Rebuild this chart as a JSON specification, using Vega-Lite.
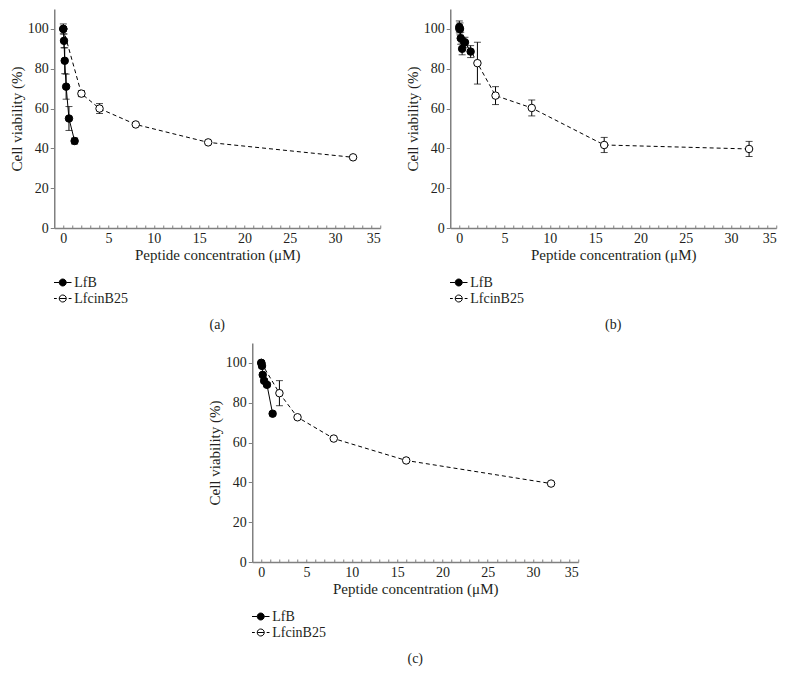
{
  "$schema": "https://vega.github.io/schema/vega-lite/v6.json",
  "background": "white",
  "padding": {"left": 9, "top": 9, "right": 5, "bottom": 5},
  "config": {
    "view": {"stroke": null},
    "axis": {"domainColor": "#808080", "domainWidth": 1.5, "tickColor": "#808080", "tickWidth": 1, "labelFont": "Liberation Serif", "labelFontSize": 14, "labelColor": "#231f20", "titleFont": "Liberation Serif", "titleFontSize": 15, "titleFontWeight": "normal", "titleColor": "#231f20", "grid": false},
    "legend": {"labelFont": "Liberation Serif", "labelFontSize": 14, "labelColor": "#231f20", "symbolStrokeColor": "black", "symbolStrokeWidth": 1, "symbolSize": 196, "labelOffset": 4, "rowPadding": 1},
    "title": {"font": "Liberation Serif", "fontSize": 14, "fontWeight": "normal", "color": "#231f20"}
  },
  "datasets": {
    "pts": [
      {"panel": "a", "series": "LfcinB25", "conc": 0, "viability": 100, "err": 0},
      {"panel": "a", "series": "LfcinB25", "conc": 2, "viability": 67.5, "err": 1.5},
      {"panel": "a", "series": "LfcinB25", "conc": 4, "viability": 60, "err": 2.5},
      {"panel": "a", "series": "LfcinB25", "conc": 8, "viability": 52, "err": 0},
      {"panel": "a", "series": "LfcinB25", "conc": 16, "viability": 43, "err": 0},
      {"panel": "a", "series": "LfcinB25", "conc": 32, "viability": 35.5, "err": 0},
      {"panel": "a", "series": "LfB", "conc": 0, "viability": 100, "err": 2.5},
      {"panel": "a", "series": "LfB", "conc": 0.078, "viability": 94, "err": 3.5},
      {"panel": "a", "series": "LfB", "conc": 0.156, "viability": 84, "err": 6.5},
      {"panel": "a", "series": "LfB", "conc": 0.3125, "viability": 71, "err": 6.3},
      {"panel": "a", "series": "LfB", "conc": 0.625, "viability": 55, "err": 6},
      {"panel": "a", "series": "LfB", "conc": 1.25, "viability": 43.7, "err": 1.5},
      {"panel": "b", "series": "LfcinB25", "conc": 0, "viability": 100, "err": 0},
      {"panel": "b", "series": "LfcinB25", "conc": 2, "viability": 82.8, "err": 10.5},
      {"panel": "b", "series": "LfcinB25", "conc": 4, "viability": 66.5, "err": 4.5},
      {"panel": "b", "series": "LfcinB25", "conc": 8, "viability": 60.3, "err": 4},
      {"panel": "b", "series": "LfcinB25", "conc": 16, "viability": 41.7, "err": 3.8},
      {"panel": "b", "series": "LfcinB25", "conc": 32, "viability": 39.7, "err": 3.8},
      {"panel": "b", "series": "LfB", "conc": 0, "viability": 101, "err": 3},
      {"panel": "b", "series": "LfB", "conc": 0.078, "viability": 100, "err": 3},
      {"panel": "b", "series": "LfB", "conc": 0.156, "viability": 95.3, "err": 3},
      {"panel": "b", "series": "LfB", "conc": 0.3125, "viability": 90, "err": 3},
      {"panel": "b", "series": "LfB", "conc": 0.625, "viability": 93.3, "err": 2.5},
      {"panel": "b", "series": "LfB", "conc": 1.25, "viability": 88.6, "err": 3},
      {"panel": "c", "series": "LfcinB25", "conc": 0, "viability": 100, "err": 0},
      {"panel": "c", "series": "LfcinB25", "conc": 2, "viability": 84.8, "err": 6.3},
      {"panel": "c", "series": "LfcinB25", "conc": 4, "viability": 72.7, "err": 0},
      {"panel": "c", "series": "LfcinB25", "conc": 8, "viability": 62, "err": 0},
      {"panel": "c", "series": "LfcinB25", "conc": 16, "viability": 51, "err": 0},
      {"panel": "c", "series": "LfcinB25", "conc": 32, "viability": 39.4, "err": 0},
      {"panel": "c", "series": "LfB", "conc": 0, "viability": 100, "err": 0.5},
      {"panel": "c", "series": "LfB", "conc": 0.078, "viability": 98.5, "err": 1},
      {"panel": "c", "series": "LfB", "conc": 0.156, "viability": 94, "err": 1},
      {"panel": "c", "series": "LfB", "conc": 0.3125, "viability": 91, "err": 1},
      {"panel": "c", "series": "LfB", "conc": 0.625, "viability": 89, "err": 1},
      {"panel": "c", "series": "LfB", "conc": 1.25, "viability": 74.5, "err": 1}
    ]
  },
  "resolve": {"scale": {"fill": "independent", "shape": "independent"}, "legend": {"fill": "independent", "shape": "independent"}},
  "center": true,
  "spacing": 11,
  "vconcat": [
    {
      "spacing": 24,
      "resolve": {"scale": {"fill": "independent", "shape": "independent"}, "legend": {"fill": "independent", "shape": "independent"}},
      "hconcat": [
        {
          "width": 326, "height": 219,
          "title": {"text": "(a)", "orient": "bottom", "offset": 12, "anchor": "middle"},
          "data": {"name": "pts"},
          "transform": [{"filter": "datum.panel === 'a'"}],
          "encoding": {
            "x": {"field": "conc", "type": "quantitative", "scale": {"domain": [-1, 35], "nice": false, "zero": false}, "axis": {"title": "Peptide concentration (μM)", "values": [0,1,2,3,4,5,6,7,8,9,10,11,12,13,14,15,16,17,18,19,20,21,22,23,24,25,26,27,28,29,30,31,32,33,34,35], "labelExpr": "datum.value % 5 === 0 ? datum.label : ''", "tickSize": -3, "labelPadding": 6, "titlePadding": 2}},
            "y": {"field": "viability", "type": "quantitative", "scale": {"domain": [0, 110], "nice": false}, "axis": {"title": "Cell viability (%)", "values": [0, 20, 40, 60, 80, 100], "tickSize": 4, "labelPadding": 2, "titlePadding": 3}}
          },
          "layer": [
            {"mark": {"type": "errorbar", "color": "black", "thickness": 1, "ticks": {"size": 7, "color": "black"}}, "encoding": {"yError": {"field": "err"}, "detail": {"field": "series"}}},
            {"transform": [{"filter": "datum.series === 'LfB'"}], "mark": {"type": "line", "color": "black", "strokeWidth": 1}, "encoding": {}},
            {"transform": [{"filter": "datum.series === 'LfcinB25'"}], "mark": {"type": "line", "color": "black", "strokeWidth": 1, "strokeDash": [4, 3]}, "encoding": {}},
            {"mark": {"type": "point", "filled": true, "stroke": "black", "strokeWidth": 1, "size": 56, "opacity": 1},
             "encoding": {
               "fill": {"field": "series", "type": "nominal", "scale": {"domain": ["LfB", "LfcinB25"], "range": ["black", "white"]}, "legend": {"title": null, "orient": "none", "legendX": 1, "legendY": 266}}}},
            {"transform": [{"filter": "datum.conc < -100"}],
             "mark": {"type": "point", "filled": true, "stroke": "black", "strokeWidth": 1, "opacity": 1},
             "encoding": {
               "fill": {"field": "series", "type": "nominal", "scale": {"domain": ["LfB", "LfcinB25"], "range": ["black", "white"]}, "legend": {"title": null, "orient": "none", "legendX": 1, "legendY": 266}},
               "shape": {"field": "series", "type": "nominal", "scale": {"domain": ["LfB", "LfcinB25"], "range": ["M-1.25,0H-0.5M0.5,0H1.25M-0.5,0A0.5,0.5,0,1,1,0.5,0A0.5,0.5,0,1,1,-0.5,0Z", "M-1.25,0H-0.85M0.85,0H1.25M-0.5,0H0.5M-0.5,0A0.5,0.5,0,1,1,0.5,0A0.5,0.5,0,1,1,-0.5,0Z"]}, "legend": {"title": null, "orient": "none", "legendX": 1, "legendY": 266}}
             }}
          ]
        },
        {
          "width": 326, "height": 219,
          "title": {"text": "(b)", "orient": "bottom", "offset": 12, "anchor": "middle"},
          "data": {"name": "pts"},
          "transform": [{"filter": "datum.panel === 'b'"}],
          "encoding": {
            "x": {"field": "conc", "type": "quantitative", "scale": {"domain": [-1, 35], "nice": false, "zero": false}, "axis": {"title": "Peptide concentration (μM)", "values": [0,1,2,3,4,5,6,7,8,9,10,11,12,13,14,15,16,17,18,19,20,21,22,23,24,25,26,27,28,29,30,31,32,33,34,35], "labelExpr": "datum.value % 5 === 0 ? datum.label : ''", "tickSize": -3, "labelPadding": 6, "titlePadding": 2}},
            "y": {"field": "viability", "type": "quantitative", "scale": {"domain": [0, 110], "nice": false}, "axis": {"title": "Cell viability (%)", "values": [0, 20, 40, 60, 80, 100], "tickSize": 4, "labelPadding": 2, "titlePadding": 3}}
          },
          "layer": [
            {"mark": {"type": "errorbar", "color": "black", "thickness": 1, "ticks": {"size": 7, "color": "black"}}, "encoding": {"yError": {"field": "err"}, "detail": {"field": "series"}}},
            {"transform": [{"filter": "datum.series === 'LfB'"}], "mark": {"type": "line", "color": "black", "strokeWidth": 1}, "encoding": {}},
            {"transform": [{"filter": "datum.series === 'LfcinB25'"}], "mark": {"type": "line", "color": "black", "strokeWidth": 1, "strokeDash": [4, 3]}, "encoding": {}},
            {"mark": {"type": "point", "filled": true, "stroke": "black", "strokeWidth": 1, "size": 56, "opacity": 1},
             "encoding": {
               "fill": {"field": "series", "type": "nominal", "scale": {"domain": ["LfB", "LfcinB25"], "range": ["black", "white"]}, "legend": {"title": null, "orient": "none", "legendX": 1, "legendY": 266}}}},
            {"transform": [{"filter": "datum.conc < -100"}],
             "mark": {"type": "point", "filled": true, "stroke": "black", "strokeWidth": 1, "opacity": 1},
             "encoding": {
               "fill": {"field": "series", "type": "nominal", "scale": {"domain": ["LfB", "LfcinB25"], "range": ["black", "white"]}, "legend": {"title": null, "orient": "none", "legendX": 1, "legendY": 266}},
               "shape": {"field": "series", "type": "nominal", "scale": {"domain": ["LfB", "LfcinB25"], "range": ["M-1.25,0H-0.5M0.5,0H1.25M-0.5,0A0.5,0.5,0,1,1,0.5,0A0.5,0.5,0,1,1,-0.5,0Z", "M-1.25,0H-0.85M0.85,0H1.25M-0.5,0H0.5M-0.5,0A0.5,0.5,0,1,1,0.5,0A0.5,0.5,0,1,1,-0.5,0Z"]}, "legend": {"title": null, "orient": "none", "legendX": 1, "legendY": 266}}
             }}
          ]
        }
      ]
    },
    {
      "width": 326, "height": 219,
      "title": {"text": "(c)", "orient": "bottom", "offset": 12, "anchor": "middle"},
      "data": {"name": "pts"},
      "transform": [{"filter": "datum.panel === 'c'"}],
      "encoding": {
        "x": {"field": "conc", "type": "quantitative", "scale": {"domain": [-1, 35], "nice": false, "zero": false}, "axis": {"title": "Peptide concentration (μM)", "values": [0,1,2,3,4,5,6,7,8,9,10,11,12,13,14,15,16,17,18,19,20,21,22,23,24,25,26,27,28,29,30,31,32,33,34,35], "labelExpr": "datum.value % 5 === 0 ? datum.label : ''", "tickSize": -3, "labelPadding": 6, "titlePadding": 2}},
        "y": {"field": "viability", "type": "quantitative", "scale": {"domain": [0, 110], "nice": false}, "axis": {"title": "Cell viability (%)", "values": [0, 20, 40, 60, 80, 100], "tickSize": 4, "labelPadding": 2, "titlePadding": 3}}
      },
      "layer": [
        {"mark": {"type": "errorbar", "color": "black", "thickness": 1, "ticks": {"size": 7, "color": "black"}}, "encoding": {"yError": {"field": "err"}, "detail": {"field": "series"}}},
        {"transform": [{"filter": "datum.series === 'LfB'"}], "mark": {"type": "line", "color": "black", "strokeWidth": 1}, "encoding": {}},
        {"transform": [{"filter": "datum.series === 'LfcinB25'"}], "mark": {"type": "line", "color": "black", "strokeWidth": 1, "strokeDash": [4, 3]}, "encoding": {}},
        {"mark": {"type": "point", "filled": true, "stroke": "black", "strokeWidth": 1, "size": 56, "opacity": 1},
         "encoding": {
           "fill": {"field": "series", "type": "nominal", "scale": {"domain": ["LfB", "LfcinB25"], "range": ["black", "white"]}, "legend": {"title": null, "orient": "none", "legendX": 1, "legendY": 266}}}},
        {"transform": [{"filter": "datum.conc < -100"}],
         "mark": {"type": "point", "filled": true, "stroke": "black", "strokeWidth": 1, "opacity": 1},
         "encoding": {
           "fill": {"field": "series", "type": "nominal", "scale": {"domain": ["LfB", "LfcinB25"], "range": ["black", "white"]}, "legend": {"title": null, "orient": "none", "legendX": 1, "legendY": 266}},
           "shape": {"field": "series", "type": "nominal", "scale": {"domain": ["LfB", "LfcinB25"], "range": ["M-1.25,0H-0.5M0.5,0H1.25M-0.5,0A0.5,0.5,0,1,1,0.5,0A0.5,0.5,0,1,1,-0.5,0Z", "M-1.25,0H-0.85M0.85,0H1.25M-0.5,0H0.5M-0.5,0A0.5,0.5,0,1,1,0.5,0A0.5,0.5,0,1,1,-0.5,0Z"]}, "legend": {"title": null, "orient": "none", "legendX": 1, "legendY": 266}}
         }}
      ]
    }
  ]
}
